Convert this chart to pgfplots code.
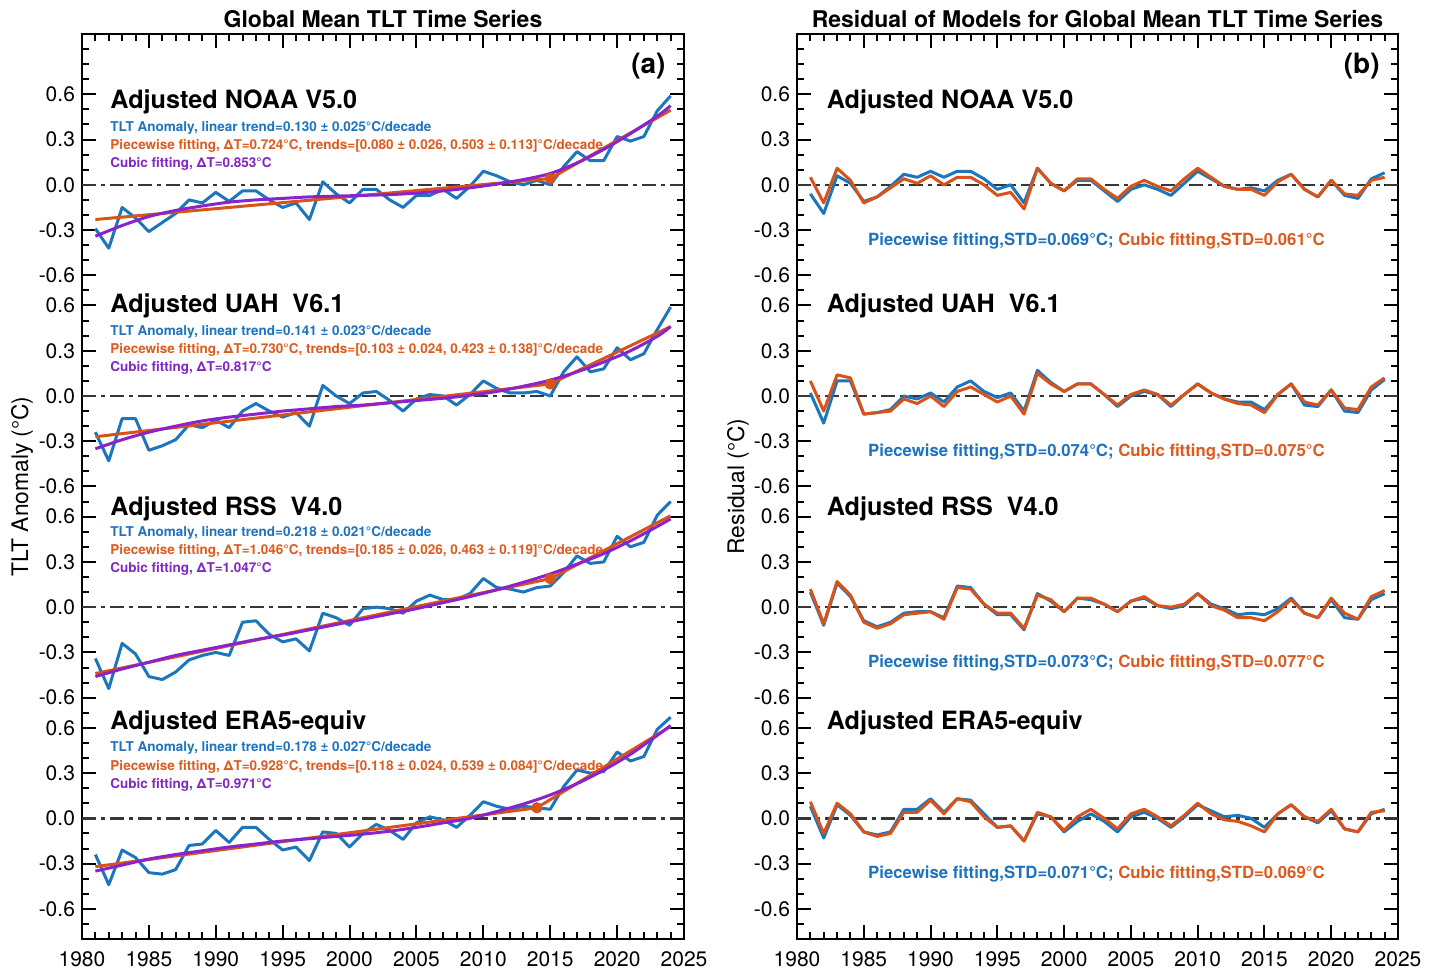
\documentclass[border=0pt]{standalone}
\usepackage{pgfplots}
\pgfplotsset{compat=1.18}
\usepackage{pgfplotstable}
\usepackage{fontspec}
\setmainfont{TeX Gyre Heros}
\definecolor{mblue}{RGB}{28,118,190}
\definecolor{morange}{RGB}{217,83,25}
\definecolor{mpurple}{RGB}{138,35,205}
\definecolor{tblue}{RGB}{30,115,190}
\definecolor{torange}{RGB}{222,90,30}
\definecolor{tpurple}{RGB}{128,38,195}
\definecolor{zgray}{RGB}{55,55,55}

\pgfplotstableread{
year noaa uah rss era
1981 -0.29 -0.24 -0.34 -0.24
1982 -0.42 -0.43 -0.54 -0.44
1983 -0.15 -0.15 -0.24 -0.21
1984 -0.22 -0.15 -0.31 -0.26
1985 -0.31 -0.36 -0.46 -0.36
1986 -0.25 -0.33 -0.48 -0.37
1987 -0.19 -0.29 -0.43 -0.34
1988 -0.10 -0.19 -0.35 -0.18
1989 -0.12 -0.21 -0.32 -0.17
1990 -0.05 -0.16 -0.30 -0.08
1991 -0.11 -0.21 -0.32 -0.16
1992 -0.04 -0.10 -0.10 -0.06
1993 -0.04 -0.05 -0.09 -0.06
1994 -0.10 -0.10 -0.18 -0.14
1995 -0.15 -0.14 -0.23 -0.21
1996 -0.12 -0.11 -0.21 -0.19
1997 -0.23 -0.20 -0.29 -0.28
1998 0.02 0.07 -0.04 -0.09
1999 -0.06 0.00 -0.07 -0.10
2000 -0.12 -0.05 -0.12 -0.19
2001 -0.03 0.02 -0.01 -0.10
2002 -0.03 0.03 0.00 -0.04
2003 -0.10 -0.03 -0.01 -0.08
2004 -0.15 -0.10 -0.04 -0.14
2005 -0.07 -0.02 0.04 -0.03
2006 -0.07 0.01 0.08 0.01
2007 -0.03 0.00 0.05 -0.01
2008 -0.09 -0.06 0.05 -0.06
2009 -0.01 0.01 0.09 0.02
2010 0.09 0.10 0.19 0.11
2011 0.06 0.05 0.13 0.08
2012 0.02 0.02 0.12 0.06
2013 0.00 0.02 0.10 0.08
2014 0.03 0.03 0.13 0.07
2015 0.00 0.00 0.14 0.06
2016 0.12 0.16 0.23 0.21
2017 0.22 0.26 0.34 0.32
2018 0.16 0.16 0.29 0.30
2019 0.16 0.18 0.30 0.31
2020 0.32 0.32 0.47 0.44
2021 0.29 0.24 0.40 0.38
2022 0.32 0.28 0.43 0.41
2023 0.49 0.44 0.61 0.59
2024 0.59 0.59 0.70 0.67
}\anom

\pgfplotstableread{
year noaa uah rss era
1981 -0.34 -0.35 -0.46 -0.35
1983 -0.27 -0.29 -0.41 -0.31
1985 -0.21 -0.24 -0.365 -0.27
1987 -0.17 -0.20 -0.32 -0.24
1989 -0.14 -0.165 -0.285 -0.215
1991 -0.115 -0.14 -0.25 -0.19
1993 -0.10 -0.12 -0.215 -0.17
1995 -0.09 -0.10 -0.185 -0.15
1997 -0.08 -0.085 -0.15 -0.135
1999 -0.075 -0.07 -0.115 -0.12
2001 -0.07 -0.06 -0.08 -0.105
2003 -0.065 -0.045 -0.045 -0.085
2005 -0.055 -0.03 -0.01 -0.06
2007 -0.04 -0.015 0.03 -0.03
2009 -0.02 0.005 0.07 0.00
2011 0.005 0.03 0.115 0.045
2013 0.035 0.065 0.165 0.095
2015 0.075 0.105 0.22 0.155
2017 0.145 0.16 0.285 0.23
2019 0.235 0.225 0.355 0.32
2021 0.34 0.30 0.44 0.425
2023 0.455 0.395 0.535 0.55
2024 0.525 0.46 0.585 0.615
}\cubic

\pgfplotstableread{
year nb no ub uo rb ro eb eo
1981 -0.06 0.05 0.02 0.10 0.10 0.12 0.08 0.11
1982 -0.19 -0.12 -0.18 -0.10 -0.12 -0.11 -0.13 -0.10
1983 0.06 0.11 0.10 0.14 0.16 0.17 0.09 0.10
1984 0.01 0.03 0.10 0.12 0.07 0.08 0.02 0.03
1985 -0.11 -0.12 -0.12 -0.12 -0.09 -0.10 -0.09 -0.09
1986 -0.08 -0.08 -0.11 -0.11 -0.13 -0.14 -0.11 -0.12
1987 -0.01 -0.02 -0.09 -0.10 -0.10 -0.11 -0.09 -0.10
1988 0.07 0.04 0.00 -0.02 -0.04 -0.05 0.06 0.04
1989 0.05 0.01 -0.02 -0.05 -0.03 -0.04 0.06 0.04
1990 0.09 0.06 0.02 0.00 -0.03 -0.03 0.13 0.12
1991 0.05 0.00 -0.04 -0.07 -0.07 -0.08 0.04 0.03
1992 0.09 0.05 0.06 0.03 0.14 0.13 0.13 0.13
1993 0.09 0.05 0.10 0.06 0.13 0.12 0.12 0.11
1994 0.04 0.00 0.03 0.01 0.02 0.02 0.03 0.01
1995 -0.03 -0.07 -0.01 -0.04 -0.05 -0.04 -0.06 -0.06
1996 0.00 -0.05 0.02 0.00 -0.05 -0.04 -0.05 -0.05
1997 -0.12 -0.16 -0.10 -0.12 -0.15 -0.14 -0.15 -0.15
1998 0.11 0.11 0.17 0.15 0.09 0.08 0.03 0.04
1999 0.01 0.01 0.09 0.08 0.04 0.05 0.01 0.01
2000 -0.04 -0.04 0.03 0.03 -0.03 -0.03 -0.09 -0.08
2001 0.03 0.04 0.08 0.08 0.06 0.06 -0.02 0.01
2002 0.03 0.04 0.08 0.08 0.05 0.06 0.03 0.06
2003 -0.04 -0.03 0.01 0.01 0.02 0.02 -0.02 0.00
2004 -0.11 -0.09 -0.07 -0.06 -0.03 -0.03 -0.09 -0.07
2005 -0.03 -0.01 0.00 0.01 0.04 0.04 0.01 0.03
2006 0.00 0.03 0.03 0.04 0.06 0.07 0.04 0.06
2007 -0.03 -0.01 0.01 0.01 0.01 0.01 0.00 0.01
2008 -0.07 -0.04 -0.07 -0.06 -0.01 0.00 -0.06 -0.05
2009 0.01 0.04 0.01 0.01 0.01 0.02 0.01 0.02
2010 0.09 0.11 0.08 0.08 0.09 0.09 0.09 0.10
2011 0.04 0.05 0.02 0.02 0.02 0.01 0.05 0.03
2012 -0.01 -0.01 -0.02 -0.02 -0.01 -0.02 0.01 -0.01
2013 -0.03 -0.03 -0.04 -0.05 -0.05 -0.07 0.02 -0.02
2014 -0.02 -0.03 -0.04 -0.06 -0.04 -0.07 0.00 -0.05
2015 -0.04 -0.07 -0.09 -0.11 -0.05 -0.09 -0.06 -0.09
2016 0.03 0.02 0.01 0.01 -0.01 -0.03 0.03 0.03
2017 0.07 0.07 0.08 0.08 0.06 0.05 0.09 0.09
2018 -0.03 -0.03 -0.06 -0.04 -0.04 -0.04 0.01 0.01
2019 -0.08 -0.08 -0.07 -0.06 -0.07 -0.07 -0.03 -0.02
2020 0.03 0.03 0.04 0.04 0.05 0.06 0.05 0.06
2021 -0.07 -0.06 -0.10 -0.08 -0.07 -0.04 -0.07 -0.07
2022 -0.09 -0.07 -0.11 -0.09 -0.08 -0.08 -0.09 -0.09
2023 0.04 0.03 0.04 0.06 0.05 0.07 0.03 0.04
2024 0.08 0.05 0.11 0.12 0.09 0.11 0.06 0.05
}\resid

\pgfplotsset{
  myax/.style={
    scale only axis, height=452.5pt,
    xmin=1980, xmax=2025, ymin=-5, ymax=1,
    xtick={1980,1985,...,2025}, minor x tick num=4,
    ytick={0.6,0.3,0,-0.3,-0.6,-0.8,-1.1,-1.4,-1.7,-2.0,-2.2,-2.5,-2.8,-3.1,-3.4,-3.6,-3.9,-4.2,-4.5,-4.8},
    yticklabels={0.6,0.3,0.0,-0.3,-0.6,0.6,0.3,0.0,-0.3,-0.6,0.6,0.3,0.0,-0.3,-0.6,0.6,0.3,0.0,-0.3,-0.6},
    minor ytick={-5,-4.9,...,1},
    xtick pos=both, ytick pos=both, xticklabel pos=bottom, yticklabel pos=left,
    tick align=inside, major tick length=7pt, minor tick length=3.5pt,
    every tick/.style={black, line width=1pt},
    axis line style={line width=1.2pt},
    tick label style={font=\fontsize{10.5}{12}\selectfont},
    xticklabel style={yshift=-3pt},
    /pgf/number format/1000 sep={}, /pgf/number format/assume math mode=true,
    title style={at={(axis description cs:0.5,1)}, anchor=base, yshift=-3pt, font=\bfseries\fontsize{11.5}{14}\selectfont},
    ylabel style={font=\fontsize{11.4}{13}\selectfont, anchor=center},
    every axis plot/.append style={line join=round},
  },
  zline/.style={zgray, line width=1.3pt, dash pattern=on 7pt off 2.5pt on 2pt off 2.5pt},
}
\tikzset{
  bigl/.style={anchor=west, inner sep=0pt, font=\bfseries\fontsize{12.6}{14}\selectfont},
  smallt/.style={anchor=west, inner sep=0pt, font=\bfseries\fontsize{6.75}{8}\selectfont},
  rest/.style={anchor=west, inner sep=0pt, font=\bfseries\fontsize{8.38}{10}\selectfont},
}

\begin{document}
\begin{tikzpicture}
\useasboundingbox (0,0) rectangle (720pt,485pt);
% ---------------- panel (a)
\begin{axis}[myax, at={(41pt,15.5pt)}, anchor=south west, width=301pt,
  title={Global Mean TLT Time Series},
  ylabel={TLT Anomaly (°C)},
  ylabel style={at={(axis description cs:-0.0997,0.5)}}]
\addplot[zline] coordinates {(1980,0) (2025,0)};
\addplot[zline] coordinates {(1980,-1.4) (2025,-1.4)};
\addplot[zline] coordinates {(1980,-2.8) (2025,-2.8)};
\addplot[zline] coordinates {(1980,-4.2) (2025,-4.2)};
% NOAA
\addplot[mblue, line width=1.5pt] table[x=year, y=noaa] {\anom};
\addplot[morange, line width=1.5pt] coordinates {(1981,-0.23) (2015,0.042) (2024,0.495)};
\addplot[mpurple, line width=1.5pt, smooth] table[x=year, y=noaa] {\cubic};
\addplot[morange, only marks, mark=*, mark size=2.6pt] coordinates {(2015,0.042)};
% UAH
\addplot[mblue, line width=1.5pt] table[x=year, y expr=\thisrow{uah}-1.4] {\anom};
\addplot[morange, line width=1.5pt] coordinates {(1981,-1.67) (2015,-1.32) (2024,-0.94)};
\addplot[mpurple, line width=1.5pt, smooth] table[x=year, y expr=\thisrow{uah}-1.4] {\cubic};
\addplot[morange, only marks, mark=*, mark size=2.6pt] coordinates {(2015,-1.32)};
% RSS
\addplot[mblue, line width=1.5pt] table[x=year, y expr=\thisrow{rss}-2.8] {\anom};
\addplot[morange, line width=1.5pt] coordinates {(1981,-3.24) (2015,-2.611) (2024,-2.194)};
\addplot[mpurple, line width=1.5pt, smooth] table[x=year, y expr=\thisrow{rss}-2.8] {\cubic};
\addplot[morange, only marks, mark=*, mark size=2.6pt] coordinates {(2015,-2.611)};
% ERA5
\addplot[mblue, line width=1.5pt] table[x=year, y expr=\thisrow{era}-4.2] {\anom};
\addplot[morange, line width=1.5pt] coordinates {(1981,-4.52) (2014,-4.13) (2024,-3.591)};
\addplot[mpurple, line width=1.5pt, smooth] table[x=year, y expr=\thisrow{era}-4.2] {\cubic};
\addplot[morange, only marks, mark=*, mark size=2.6pt] coordinates {(2014,-4.13)};

\node[anchor=east, inner sep=0pt, font=\bfseries\fontsize{14}{16}\selectfont] at (axis cs:2023.65,0.786) {(a)};
% texts NOAA
\node[bigl] at (axis cs:1982.1,0.547) {Adjusted NOAA V5.0};
\node[smallt, tblue] at (axis cs:1982.1,0.374) {TLT Anomaly, linear trend=0.130 ± 0.025°C/decade};
\node[smallt, torange] at (axis cs:1982.1,0.255) {Piecewise fitting, ΔT=0.724°C, trends=[0.080 ± 0.026, 0.503 ± 0.113]°C/decade};
\node[smallt, tpurple] at (axis cs:1982.1,0.136) {Cubic fitting, ΔT=0.853°C};
% UAH
\node[bigl] at (axis cs:1982.1,-0.80) {Adjusted UAH\ \ V6.1};
\node[smallt, tblue] at (axis cs:1982.1,-0.973) {TLT Anomaly, linear trend=0.141 ± 0.023°C/decade};
\node[smallt, torange] at (axis cs:1982.1,-1.092) {Piecewise fitting, ΔT=0.730°C, trends=[0.103 ± 0.024, 0.423 ± 0.138]°C/decade};
\node[smallt, tpurple] at (axis cs:1982.1,-1.211) {Cubic fitting, ΔT=0.817°C};
% RSS
\node[bigl] at (axis cs:1982.1,-2.147) {Adjusted RSS\ \ V4.0};
\node[smallt, tblue] at (axis cs:1982.1,-2.306) {TLT Anomaly, linear trend=0.218 ± 0.021°C/decade};
\node[smallt, torange] at (axis cs:1982.1,-2.426) {Piecewise fitting, ΔT=1.046°C, trends=[0.185 ± 0.026, 0.463 ± 0.119]°C/decade};
\node[smallt, tpurple] at (axis cs:1982.1,-2.545) {Cubic fitting, ΔT=1.047°C};
% ERA5
\node[bigl] at (axis cs:1982.1,-3.567) {Adjusted ERA5-equiv};
\node[smallt, tblue] at (axis cs:1982.1,-3.733) {TLT Anomaly, linear trend=0.178 ± 0.027°C/decade};
\node[smallt, torange] at (axis cs:1982.1,-3.859) {Piecewise fitting, ΔT=0.928°C, trends=[0.118 ± 0.024, 0.539 ± 0.084]°C/decade};
\node[smallt, tpurple] at (axis cs:1982.1,-3.978) {Cubic fitting, ΔT=0.971°C};
\end{axis}

% ---------------- panel (b)
\begin{axis}[myax, at={(398.5pt,15.5pt)}, anchor=south west, width=300.5pt,
  title={Residual of Models for Global Mean TLT Time Series},
  ylabel={Residual (°C)},
  ylabel style={at={(axis description cs:-0.098,0.5)}}]
\addplot[zline] coordinates {(1980,0) (2025,0)};
\addplot[zline] coordinates {(1980,-1.4) (2025,-1.4)};
\addplot[zline] coordinates {(1980,-2.8) (2025,-2.8)};
\addplot[zline] coordinates {(1980,-4.2) (2025,-4.2)};
\addplot[mblue, line width=1.5pt] table[x=year, y=nb] {\resid};
\addplot[morange, line width=1.5pt] table[x=year, y=no] {\resid};
\addplot[mblue, line width=1.5pt] table[x=year, y expr=\thisrow{ub}-1.4] {\resid};
\addplot[morange, line width=1.5pt] table[x=year, y expr=\thisrow{uo}-1.4] {\resid};
\addplot[mblue, line width=1.5pt] table[x=year, y expr=\thisrow{rb}-2.8] {\resid};
\addplot[morange, line width=1.5pt] table[x=year, y expr=\thisrow{ro}-2.8] {\resid};
\addplot[mblue, line width=1.5pt] table[x=year, y expr=\thisrow{eb}-4.2] {\resid};
\addplot[morange, line width=1.5pt] table[x=year, y expr=\thisrow{eo}-4.2] {\resid};

\node[anchor=east, inner sep=0pt, font=\bfseries\fontsize{14}{16}\selectfont] at (axis cs:2023.65,0.786) {(b)};
\node[bigl] at (axis cs:1982.2,0.547) {Adjusted NOAA V5.0};
\node[bigl] at (axis cs:1982.2,-0.80) {Adjusted UAH\ \ V6.1};
\node[bigl] at (axis cs:1982.2,-2.147) {Adjusted RSS\ \ V4.0};
\node[bigl] at (axis cs:1982.2,-3.567) {Adjusted ERA5-equiv};
\node[rest] at (axis cs:1985.3,-0.37) {\textcolor{tblue}{Piecewise fitting,STD=0.069°C;} \textcolor{torange}{Cubic fitting,STD=0.061°C}};
\node[rest] at (axis cs:1985.3,-1.77) {\textcolor{tblue}{Piecewise fitting,STD=0.074°C;} \textcolor{torange}{Cubic fitting,STD=0.075°C}};
\node[rest] at (axis cs:1985.3,-3.17) {\textcolor{tblue}{Piecewise fitting,STD=0.073°C;} \textcolor{torange}{Cubic fitting,STD=0.077°C}};
\node[rest] at (axis cs:1985.3,-4.57) {\textcolor{tblue}{Piecewise fitting,STD=0.071°C;} \textcolor{torange}{Cubic fitting,STD=0.069°C}};
\end{axis}
\end{tikzpicture}
\end{document}
